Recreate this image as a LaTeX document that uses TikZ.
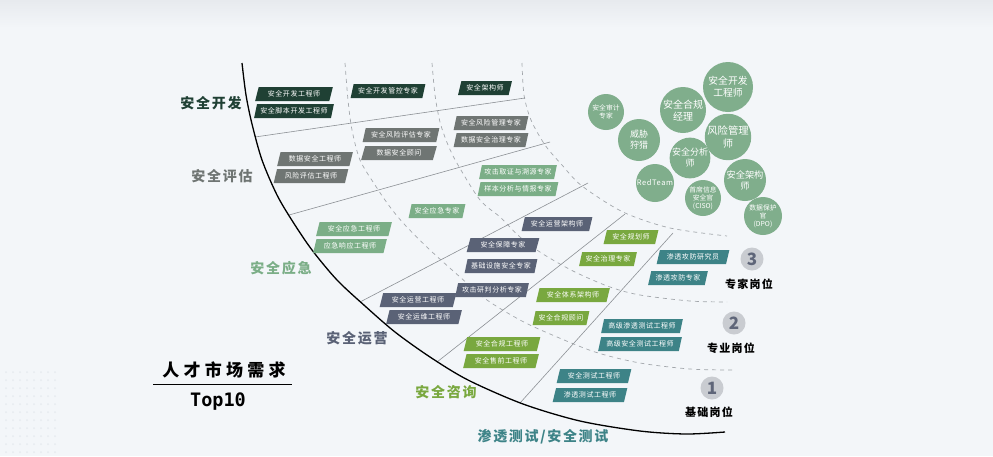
\documentclass[tikz,border=0pt]{standalone}
\usepackage{fontspec}
\usetikzlibrary{shapes.geometric}
\newfontfamily\cjk{Noto Sans CJK SC}
\newfontfamily\cjkbox{Noto Sans CJK SC}[LetterSpace=8]
\newfontfamily\cjkcat{Noto Sans CJK SC}[LetterSpace=12]
\newfontfamily\cjktitle{Noto Sans CJK SC}[LetterSpace=25]
\newfontfamily\monob{DejaVu Sans Mono}

\definecolor{bgc}{HTML}{F3F6F9}
\definecolor{topc}{HTML}{E7EAEE}
\definecolor{dotc}{HTML}{E6EAEF}
\definecolor{devc}{HTML}{1F4034}
\definecolor{evalc}{HTML}{6F7573}
\definecolor{emgc}{HTML}{7BAE87}
\definecolor{opsc}{HTML}{5A6276}
\definecolor{conc}{HTML}{79A83F}
\definecolor{pentc}{HTML}{3D8387}
\definecolor{bubc}{HTML}{80AE8C}
\definecolor{lvlc}{HTML}{C9CCD1}
\definecolor{numc}{HTML}{5F6679}
\definecolor{sepc}{HTML}{8C9095}
\definecolor{dashc}{HTML}{A3A7AC}

\tikzset{
  job/.style={trapezium, trapezium left angle=68, trapezium right angle=112,
    trapezium stretches=true, minimum height=14pt, minimum width=76pt,
    inner sep=0pt, text=white, font=\cjkbox\fontsize{7}{7.5}\selectfont},
  devbox/.style={job, fill=devc},
  evalbox/.style={job, fill=evalc},
  emgbox/.style={job, fill=emgc},
  opsbox/.style={job, fill=opsc},
  conbox/.style={job, fill=conc},
  pentbox/.style={job, fill=pentc},
  catlabel/.style={font=\cjkcat\bfseries\fontsize{14}{16}\selectfont},
  bubble/.style={circle, fill=bubc, text=white, align=center, inner sep=0pt},
  lvlnum/.style={circle, fill=lvlc, text=numc, minimum size=23pt, inner sep=0pt,
    font=\cjk\bfseries\fontsize{17}{17}\selectfont},
  lvltext/.style={font=\cjkcat\bfseries\fontsize{11}{12}\selectfont},
  sep/.style={draw=sepc, line width=0.6pt},
  lvlsep/.style={draw=dashc, line width=0.7pt, dash pattern=on 4pt off 4pt},
}

\begin{document}
\begin{tikzpicture}[x=1pt,y=-1pt]
  \useasboundingbox (0,0) rectangle (993,456);
  \fill[bgc] (0,0) rectangle (993,456);
  \shade[top color=topc, bottom color=bgc] (0,0) rectangle (993,28);
  \foreach \i in {0,...,7}
    \foreach \j in {0,...,10}
      \fill[dotc] (6+7*\i,372+8*\j) circle (1pt);

  % level separators
  \draw[lvlsep] plot[smooth] coordinates {(345,63) (348,100) (352,130) (360,160)
    (375,185) (390,207) (405,225) (430,250) (460,277) (487,300) (520,320)
    (550,334) (595,352) (640,363) (690,369) (732,370)};
  \draw[lvlsep] plot[smooth] coordinates {(432,63) (435,95) (440,122) (448,145)
    (458,165) (480,200) (500,217) (520,237) (543,254) (575,272) (610,287)
    (640,295) (690,301) (727,302)};
  \draw[lvlsep] plot[smooth] coordinates {(522,63) (524,95) (531,120) (545,145)
    (562,165) (582,186) (623,212) (670,228) (727,236)};

  % category separators
  \draw[sep] (255,137) -- (525,98);
  \draw[sep] (289,215) -- (550,142);
  \draw[sep] (360,302) -- (588,183);
  \draw[sep] (437,362) -- (625,214);
  \draw[sep] (520,403) -- (673,233);

  % main arc
  \draw[line width=1.3pt] plot[smooth] coordinates {(242,63) (246,95) (252,124)
    (262,160) (277,195) (293,222) (312,250) (337,280) (365,306) (395,332)
    (430,357) (468,380) (523,404) (580,421) (640,431) (686,434) (725,432)};

  % category labels
  \node[catlabel, text=devc] (catDev) at (211,103) {安全开发};
  \node[catlabel, text=evalc] (catEval) at (222,176) {安全评估};
  \node[catlabel, text=emgc] (catEmg) at (281,268) {安全应急};
  \node[catlabel, text=opsc] (catOps) at (357,338) {安全运营};
  \node[catlabel, text=conc] (catCon) at (446,392) {安全咨询};
  \node[catlabel, text=pentc] (catPent) at (543,437) {渗透测试/安全测试};

  % jobs
  \node[devbox, minimum width=78pt] (devEng) at (294,94) {安全开发工程师};
  \node[devbox, minimum width=80pt] (devScript) at (294,111) {安全脚本开发工程师};
  \node[devbox, minimum width=75pt] (devCtrl) at (388,91) {安全开发管控专家};
  \node[devbox, minimum width=54pt] (devArch) at (485,88) {安全架构师};

  \node[evalbox] (evalData) at (315,159) {数据安全工程师};
  \node[evalbox, minimum width=75pt] (evalRisk) at (311,176) {风险评估工程师};
  \node[evalbox, minimum width=77pt] (evalExp) at (401,135) {安全风险评估专家};
  \node[evalbox] (evalAdv) at (399,153) {数据安全顾问};
  \node[evalbox, minimum width=75pt] (evalMgr) at (491,123) {安全风险管理专家};
  \node[evalbox, minimum width=75pt] (evalGov) at (491,140) {数据安全治理专家};

  \node[emgbox] (emgEng) at (354,229) {安全应急工程师};
  \node[emgbox, minimum width=74pt] (emgResp) at (350,246) {应急响应工程师};
  \node[emgbox, minimum width=57pt] (emgExp) at (437,211) {安全应急专家};
  \node[emgbox, minimum width=78pt] (emgTrace) at (518,172) {攻击取证与溯源专家};
  \node[emgbox, minimum width=81pt] (emgIntel) at (518,189) {样本分析与情报专家};

  \node[opsbox, minimum width=77pt] (opsEng) at (418,300) {安全运营工程师};
  \node[opsbox] (opsMaint) at (424,317) {安全运维工程师};
  \node[opsbox, minimum width=73pt] (opsGuard) at (503,245) {安全保障专家};
  \node[opsbox, minimum width=73pt] (opsInfra) at (501,266) {基础设施安全专家};
  \node[opsbox, minimum width=74pt] (opsJudge) at (492,290) {攻击研判分析专家};
  \node[opsbox, minimum width=71pt] (opsArch) at (557,224) {安全运营架构师};

  \node[conbox, minimum width=77pt] (conEng) at (502,344) {安全合规工程师};
  \node[conbox] (conPre) at (501,361) {安全售前工程师};
  \node[conbox, minimum width=74pt] (conSys) at (573,295) {安全体系架构师};
  \node[conbox, minimum width=57pt] (conAdv) at (561,318) {安全合规顾问};
  \node[conbox, minimum width=55pt] (conPlan) at (631,237) {安全规划师};
  \node[conbox, minimum width=58pt] (conGov) at (608,259) {安全治理专家};

  \node[pentbox, minimum width=73pt] (pentRes) at (693,257) {渗透攻防研究员};
  \node[pentbox, minimum width=60pt] (pentExp) at (678,278) {渗透攻防专家};
  \node[pentbox, minimum width=82pt] (pentSen) at (642,326) {高级渗透测试工程师};
  \node[pentbox, minimum width=84pt] (pentSec) at (640,344) {高级安全测试工程师};
  \node[pentbox, minimum width=75pt] (pentTest) at (594,376) {安全测试工程师};
  \node[pentbox, minimum width=75pt] (pentEng) at (590,395) {渗透测试工程师};

  % levels
  \node[lvlnum] (lvlThree) at (752,259) {3};
  \node[lvltext] (lvlExpert) at (749,284) {专家岗位};
  \node[lvlnum] (lvlTwo) at (734,323) {2};
  \node[lvltext] (lvlPro) at (731,348) {专业岗位};
  \node[lvlnum] (lvlOne) at (712,388) {1};
  \node[lvltext] (lvlBase) at (709,412) {基础岗位};

  % top ten bubbles
  \node[bubble, minimum size=36pt, font=\cjk\fontsize{6.8}{8.5}\selectfont] (bAudit) at (606,112) {安全审计\\专家};
  \node[bubble, minimum size=42pt, font=\cjk\fontsize{9}{11}\selectfont] (bHunt) at (639,140) {威胁\\狩猎};
  \node[bubble, minimum size=46pt, font=\cjk\fontsize{10}{12}\selectfont] (bComp) at (683,110) {安全合规\\经理};
  \node[bubble, minimum size=50pt, font=\cjk\fontsize{9.8}{12}\selectfont] (bDev) at (728,87) {安全开发\\工程师};
  \node[bubble, minimum size=44pt, font=\cjk\fontsize{10.3}{12.3}\selectfont] (bRisk) at (728,137) {风险管理\\师};
  \node[bubble, minimum size=40pt, font=\cjk\fontsize{9}{11}\selectfont] (bAna) at (690,158) {安全分析\\师};
  \node[bubble, minimum size=38pt, font=\cjkbox\fontsize{7.5}{8}\selectfont] (bRed) at (655,183) {RedTeam};
  \node[bubble, minimum size=36pt, font=\cjk\fontsize{6.8}{8}\selectfont] (bCiso) at (703,198) {首席信息\\安全官\\(CISO)};
  \node[bubble, minimum size=42pt, font=\cjk\fontsize{9.2}{11}\selectfont] (bArch) at (745,180) {安全架构\\师};
  \node[bubble, minimum size=38pt, font=\cjk\fontsize{6.8}{8}\selectfont] (bDpo) at (763,216) {数据保护\\官\\(DPO)};

  % title
  \node[font=\cjktitle\bfseries\fontsize{17}{19}\selectfont] (title) at (224,370) {人才市场需求};
  \draw[line width=1pt] (153,384) -- (292,384);
  \node[font=\monob\bfseries\fontsize{18.5}{20}\selectfont] (topTen) at (218,402) {Top10};
\end{tikzpicture}
\end{document}
